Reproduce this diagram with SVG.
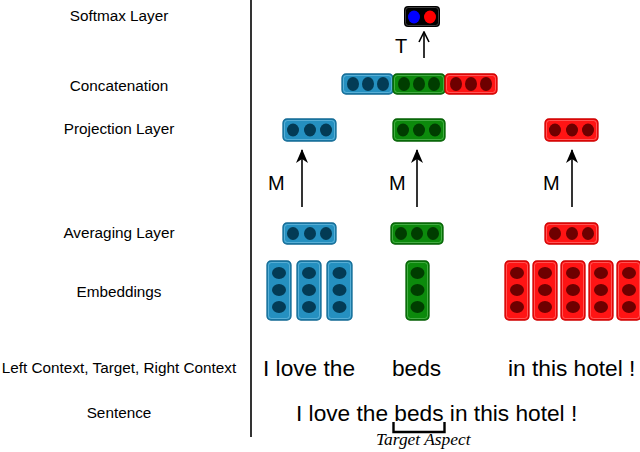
<svg xmlns="http://www.w3.org/2000/svg" width="640" height="452" viewBox="0 0 640 452">
<style>
.lbl{font-family:"Liberation Sans",Arial,sans-serif;font-size:15.3px;fill:#000;text-anchor:middle}
.big{font-family:"Liberation Sans",Arial,sans-serif;font-size:22.7px;fill:#000}
.mt{font-family:"Liberation Sans",Arial,sans-serif;font-size:20px;fill:#000}
.ta{font-family:"Liberation Serif","Times New Roman",serif;font-style:italic;font-size:17.4px;fill:#000}
.b .o{fill:#2590c0;stroke:#136a94;stroke-width:1.3}
.b .i{fill:none;stroke:#8fd0ec;stroke-width:0.7;opacity:.7}
.b ellipse{fill:#033b55}
.g .o{fill:#0c8a0c;stroke:#066006;stroke-width:1.3}
.g .i{fill:none;stroke:#7fd07f;stroke-width:0.7;opacity:.7}
.g ellipse{fill:#003d00}
.r .o{fill:#ff1414;stroke:#d00000;stroke-width:1.3}
.r .i{fill:none;stroke:#ff9a9a;stroke-width:0.7;opacity:.7}
.r ellipse{fill:#6e0000}
.arr{stroke:#000;stroke-width:1.6;fill:none}
</style>
<defs>
<marker id="ah" viewBox="0 0 14 12" refX="13" refY="6" markerWidth="14" markerHeight="12" markerUnits="userSpaceOnUse" orient="auto">
<path d="M0,0 L14,6 L0,12 L4,6 Z" fill="#000"/>
</marker>
<marker id="av" viewBox="0 0 12 12" refX="11" refY="6" markerWidth="12" markerHeight="12" markerUnits="userSpaceOnUse" orient="auto">
<path d="M1,1 L11,6 L1,11" fill="none" stroke="#000" stroke-width="1.6"/>
</marker>
</defs>

<line x1="251" y1="0" x2="251" y2="437" stroke="#000" stroke-width="1.6"/>

<g id="labels">
<text class="lbl" x="119" y="21">Softmax Layer</text>
<text class="lbl" x="119" y="91">Concatenation</text>
<text class="lbl" x="119" y="134">Projection Layer</text>
<text class="lbl" x="119" y="238">Averaging Layer</text>
<text class="lbl" x="119" y="297">Embeddings</text>
<text class="lbl" x="119" y="373">Left Context, Target, Right Context</text>
<text class="lbl" x="119" y="418">Sentence</text>
</g>

<g id="softmax">
<rect x="404" y="6" width="36" height="21" rx="4" fill="#000"/>
<rect x="405.5" y="7.5" width="33" height="18" rx="3" fill="none" stroke="#666" stroke-width="0.6"/>
<ellipse cx="414" cy="17" rx="6" ry="6.5" fill="#0000ff"/>
<ellipse cx="430" cy="17" rx="6" ry="6.5" fill="#ff0000"/>
</g>

<g id="concat">
<g class="b"><rect class="o" x="342" y="74" width="51" height="20" rx="4"/><rect class="i" x="343.5" y="75.5" width="48" height="17" rx="3"/>
<ellipse cx="353" cy="84" rx="6" ry="7"/><ellipse cx="368" cy="84" rx="6" ry="7"/><ellipse cx="383" cy="84" rx="6" ry="7"/></g>
<g class="g"><rect class="o" x="393" y="74" width="52" height="20" rx="4"/><rect class="i" x="394.5" y="75.5" width="49" height="17" rx="3"/>
<ellipse cx="404" cy="84" rx="6" ry="7"/><ellipse cx="419" cy="84" rx="6" ry="7"/><ellipse cx="434" cy="84" rx="6" ry="7"/></g>
<g class="r"><rect class="o" x="445" y="74" width="52" height="20" rx="4"/><rect class="i" x="446.5" y="75.5" width="49" height="17" rx="3"/>
<ellipse cx="456" cy="84" rx="6" ry="7"/><ellipse cx="471" cy="84" rx="6" ry="7"/><ellipse cx="486" cy="84" rx="6" ry="7"/></g>
</g>

<g id="proj-left" class="b"><rect class="o" x="283" y="119" width="53" height="22" rx="4"/><rect class="i" x="284.5" y="120.5" width="50" height="19" rx="3"/>
<ellipse cx="293" cy="130" rx="6" ry="6.5"/><ellipse cx="310" cy="130" rx="6" ry="6.5"/><ellipse cx="326" cy="130" rx="6" ry="6.5"/></g>
<g id="proj-target" class="g"><rect class="o" x="393" y="119" width="52" height="22" rx="4"/><rect class="i" x="394.5" y="120.5" width="49" height="19" rx="3"/>
<ellipse cx="403" cy="130" rx="6" ry="6.5"/><ellipse cx="419" cy="130" rx="6" ry="6.5"/><ellipse cx="435" cy="130" rx="6" ry="6.5"/></g>
<g id="proj-right" class="r"><rect class="o" x="545" y="119" width="53" height="22" rx="4"/><rect class="i" x="546.5" y="120.5" width="50" height="19" rx="3"/>
<ellipse cx="555" cy="130" rx="6" ry="6.5"/><ellipse cx="572" cy="130" rx="6" ry="6.5"/><ellipse cx="588" cy="130" rx="6" ry="6.5"/></g>

<g id="avg-left" class="b"><rect class="o" x="283" y="223" width="53" height="21" rx="4"/><rect class="i" x="284.5" y="224.5" width="50" height="18" rx="3"/>
<ellipse cx="293" cy="233.5" rx="6" ry="6.5"/><ellipse cx="310" cy="233.5" rx="6" ry="6.5"/><ellipse cx="326" cy="233.5" rx="6" ry="6.5"/></g>
<g id="avg-target" class="g"><rect class="o" x="391" y="223" width="52" height="21" rx="4"/><rect class="i" x="392.5" y="224.5" width="49" height="18" rx="3"/>
<ellipse cx="401" cy="233.5" rx="6" ry="6.5"/><ellipse cx="417" cy="233.5" rx="6" ry="6.5"/><ellipse cx="433" cy="233.5" rx="6" ry="6.5"/></g>
<g id="avg-right" class="r"><rect class="o" x="545" y="223" width="53" height="21" rx="4"/><rect class="i" x="546.5" y="224.5" width="50" height="18" rx="3"/>
<ellipse cx="555" cy="233.5" rx="6" ry="6.5"/><ellipse cx="572" cy="233.5" rx="6" ry="6.5"/><ellipse cx="588" cy="233.5" rx="6" ry="6.5"/></g>

<g id="emb-left" class="b">
<rect class="o" x="267" y="261" width="24" height="59" rx="4"/><rect class="i" x="268.5" y="262.5" width="21" height="56" rx="3"/>
<ellipse cx="279" cy="273" rx="7" ry="6"/><ellipse cx="279" cy="290" rx="7" ry="6"/><ellipse cx="279" cy="307" rx="7" ry="6"/>
<rect class="o" x="297" y="261" width="24" height="59" rx="4"/><rect class="i" x="298.5" y="262.5" width="21" height="56" rx="3"/>
<ellipse cx="309" cy="273" rx="7" ry="6"/><ellipse cx="309" cy="290" rx="7" ry="6"/><ellipse cx="309" cy="307" rx="7" ry="6"/>
<rect class="o" x="327" y="261" width="25" height="59" rx="4"/><rect class="i" x="328.5" y="262.5" width="22" height="56" rx="3"/>
<ellipse cx="339.5" cy="273" rx="7" ry="6"/><ellipse cx="339.5" cy="290" rx="7" ry="6"/><ellipse cx="339.5" cy="307" rx="7" ry="6"/>
</g>
<g id="emb-target" class="g">
<rect class="o" x="406" y="261" width="23" height="59" rx="4"/><rect class="i" x="407.5" y="262.5" width="20" height="56" rx="3"/>
<ellipse cx="417.5" cy="273" rx="7" ry="6"/><ellipse cx="417.5" cy="290" rx="7" ry="6"/><ellipse cx="417.5" cy="307" rx="7" ry="6"/>
</g>
<g id="emb-right" class="r">
<rect class="o" x="505" y="261" width="24" height="59" rx="4"/><rect class="i" x="506.5" y="262.5" width="21" height="56" rx="3"/>
<ellipse cx="517" cy="273" rx="7" ry="6"/><ellipse cx="517" cy="290" rx="7" ry="6"/><ellipse cx="517" cy="307" rx="7" ry="6"/>
<rect class="o" x="533" y="261" width="24" height="59" rx="4"/><rect class="i" x="534.5" y="262.5" width="21" height="56" rx="3"/>
<ellipse cx="545" cy="273" rx="7" ry="6"/><ellipse cx="545" cy="290" rx="7" ry="6"/><ellipse cx="545" cy="307" rx="7" ry="6"/>
<rect class="o" x="561" y="261" width="24" height="59" rx="4"/><rect class="i" x="562.5" y="262.5" width="21" height="56" rx="3"/>
<ellipse cx="573" cy="273" rx="7" ry="6"/><ellipse cx="573" cy="290" rx="7" ry="6"/><ellipse cx="573" cy="307" rx="7" ry="6"/>
<rect class="o" x="589" y="261" width="24" height="59" rx="4"/><rect class="i" x="590.5" y="262.5" width="21" height="56" rx="3"/>
<ellipse cx="601" cy="273" rx="7" ry="6"/><ellipse cx="601" cy="290" rx="7" ry="6"/><ellipse cx="601" cy="307" rx="7" ry="6"/>
<rect class="o" x="617" y="261" width="24" height="59" rx="4"/><rect class="i" x="618.5" y="262.5" width="21" height="56" rx="3"/>
<ellipse cx="629" cy="273" rx="7" ry="6"/><ellipse cx="629" cy="290" rx="7" ry="6"/><ellipse cx="629" cy="307" rx="7" ry="6"/>
</g>

<g id="connectors">
<line class="arr" x1="424" y1="58" x2="424" y2="32" marker-end="url(#av)"/>
<line class="arr" x1="302" y1="207" x2="302" y2="150" marker-end="url(#ah)"/>
<line class="arr" x1="417" y1="207" x2="417" y2="150" marker-end="url(#ah)"/>
<line class="arr" x1="572" y1="207" x2="572" y2="150" marker-end="url(#ah)"/>
</g>

<g id="arrow-labels">
<text class="mt" x="395" y="53">T</text>
<text class="mt" x="268" y="190">M</text>
<text class="mt" x="389" y="190">M</text>
<text class="mt" x="543" y="190">M</text>
</g>

<g id="context-text">
<text class="big" x="263" y="376">I love the</text>
<text class="big" x="392" y="376">beds</text>
<text class="big" x="508" y="376">in this hotel !</text>
</g>

<g id="sentence">
<text class="big" x="296" y="421">I love the beds in this hotel !</text>
<path d="M393.5,422 V432 H444.5 V422" fill="none" stroke="#000" stroke-width="2.4"/>
<text class="ta" x="376" y="445">Target Aspect</text>
</g>
</svg>
